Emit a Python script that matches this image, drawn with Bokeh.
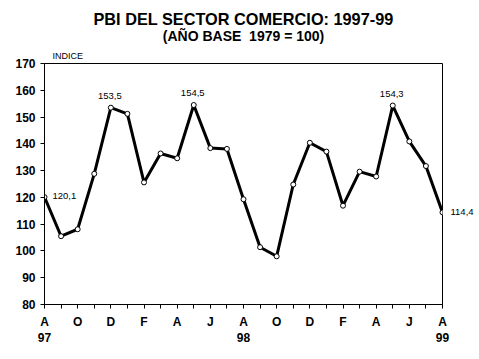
from bokeh.plotting import figure
from bokeh.models import Range1d, FixedTicker, Label, LinearAxis, Title
from bokeh.embed import file_html
from bokeh.resources import INLINE

# ---- data ----
months = ["A", "S", "O", "N", "D", "E", "F", "M", "A", "M", "J", "J",
          "A", "S", "O", "N", "D", "E", "F", "M", "A", "M", "J", "J", "A"]
years = {0: "97", 12: "98", 24: "99"}
indice = [120.1, 105.5, 108.1, 128.8, 153.5, 151.2, 125.6, 136.4, 134.6,
          154.5, 138.4, 138.1, 119.3, 101.4, 98.0, 124.8, 140.4, 137.1,
          116.9, 129.6, 127.8, 154.3, 140.9, 131.7, 114.4]
peaks = [4, 9, 21]
y_ticks = [80, 90, 100, 110, 120, 130, 140, 150, 160, 170]

x = list(range(len(indice)))
fmt = lambda v: f"{v:.1f}".replace(".", ",")

FONT = "Liberation Sans"

p = figure(width=478, height=350, output_backend="svg", toolbar_location=None,
           x_range=Range1d(0, len(indice) - 1), y_range=Range1d(80, 170),
           min_border_left=44, min_border_right=36, min_border_top=63,
           min_border_bottom=46)
p.background_fill_color = "white"
p.border_fill_color = "white"
p.outline_line_color = "black"
p.outline_line_width = 1
p.xgrid.visible = False
p.ygrid.visible = False

# axes
p.xaxis.ticker = FixedTicker(ticks=x)
p.xaxis.major_label_overrides = {i: (months[i] if i % 2 == 0 else "") for i in x}
p.yaxis.ticker = FixedTicker(ticks=y_ticks)
for ax in (p.xaxis[0], p.yaxis[0]):
    ax.axis_line_color = "black"
    ax.axis_line_width = 1
    ax.major_tick_line_color = "black"
    ax.major_tick_in = 0
    ax.major_tick_out = 4
    ax.minor_tick_line_color = None
    ax.major_label_text_font = FONT
    ax.major_label_text_font_style = "bold"
    ax.major_label_text_font_size = "12px"
    ax.major_label_text_color = "black"
p.xaxis.major_label_standoff = 6
p.yaxis.major_label_standoff = 5

# second row of x labels: years
year_axis = LinearAxis(ticker=FixedTicker(ticks=list(years.keys())),
                       major_label_overrides=years,
                       axis_line_color=None, major_tick_line_color=None,
                       minor_tick_line_color=None, major_tick_in=0,
                       major_tick_out=0, major_label_standoff=1,
                       major_label_text_font=FONT,
                       major_label_text_font_style="bold",
                       major_label_text_font_size="12px",
                       major_label_text_color="black")
p.add_layout(year_axis, "below")

# last value label at the right of the frame
last = len(indice) - 1
right_axis = LinearAxis(ticker=FixedTicker(ticks=[indice[last]]),
                        major_label_overrides={indice[last]: fmt(indice[last])},
                        axis_line_color=None, major_tick_line_color=None,
                        minor_tick_line_color=None, major_tick_in=0,
                        major_tick_out=0, major_label_standoff=8,
                        major_label_text_font=FONT,
                        major_label_text_font_size="9.5px",
                        major_label_text_color="black")
p.add_layout(right_axis, "right")

# line + markers
p.line(x, indice, line_color="black", line_width=3)
p.scatter(x, indice, marker="circle", size=5, fill_color="white",
          line_color="black", line_width=1)

# value labels inside the frame
p.add_layout(Label(x=0, y=indice[0], text=fmt(indice[0]), x_offset=8,
                   y_offset=1, text_align="left", text_baseline="middle",
                   text_font=FONT, text_font_size="9.5px", text_color="black"))
for i in peaks:
    p.add_layout(Label(x=i, y=indice[i], text=fmt(indice[i]), x_offset=-1,
                       y_offset=12, text_align="center", text_baseline="middle",
                       text_font=FONT, text_font_size="9.5px",
                       text_color="black"))

# titles (first added is nearest the frame)
p.add_layout(Title(text="INDICE", align="left", offset=8, standoff=6,
                   text_font=FONT, text_font_style="normal",
                   text_font_size="9px", text_color="black"), "above")
p.add_layout(Title(text="(AÑO BASE \u00a01979 = 100)", align="center", offset=1,
                   standoff=3, text_font=FONT, text_font_style="bold",
                   text_font_size="14px", text_color="black"), "above")
p.add_layout(Title(text="PBI DEL SECTOR COMERCIO: 1997-99", align="center",
                   offset=-4, standoff=-6, text_font=FONT,
                   text_font_style="bold", text_font_size="16.3px",
                   text_color="black"), "above")

open("out.html", "w").write(file_html(p, INLINE))
